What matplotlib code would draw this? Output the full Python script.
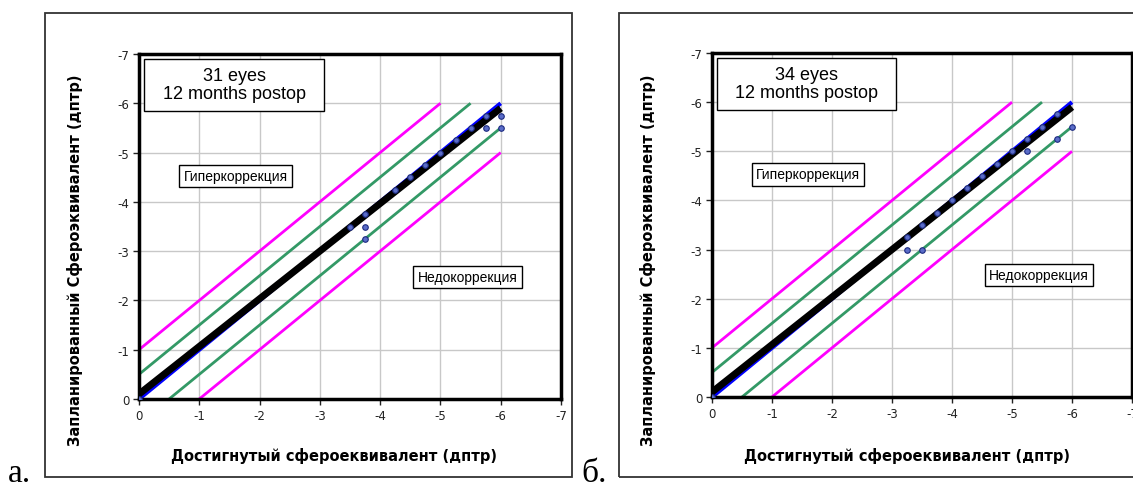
import numpy as np
import matplotlib
matplotlib.use("Agg")
import matplotlib.pyplot as plt
from matplotlib.patches import Rectangle

plt.rcParams['axes.unicode_minus'] = False

# --- data ---
ticks = [0, -1, -2, -3, -4, -5, -6, -7]

# reference lines (achieved x, planned y)
magenta_upper_x = [0, -5]
magenta_upper_y = [-1, -6]
magenta_lower_x = [-1, -6]
magenta_lower_y = [0, -5]
green_upper_x = [0, -5.5]
green_upper_y = [-0.5, -6]
green_lower_x = [-0.5, -6]
green_lower_y = [0, -5.5]
ideal_x = [0, -6]
ideal_y = [0, -6]

# regression lines
fit_a_x = [0, -6]
fit_a_y = [-0.1, -5.9]
fit_b_x = [0, -6]
fit_b_y = [-0.1, -5.9]

# eyes, panel a
achieved_a = [0, -3.5, -3.75, -3.75, -3.75, -4.25, -4.5, -4.75, -5, -5.25,
              -5.5, -5.75, -5.75, -6, -6]
planned_a = [0, -3.5, -3.75, -3.5, -3.25, -4.25, -4.5, -4.75, -5, -5.25,
             -5.5, -5.75, -5.5, -5.75, -5.5]

# eyes, panel b
achieved_b = [0, -3.25, -3.25, -3.5, -3.5, -3.75, -4, -4.25, -4.5, -4.75,
              -5, -5.25, -5.25, -5.5, -5.75, -5.75, -6]
planned_b = [0, -3.25, -3.0, -3.0, -3.5, -3.75, -4, -4.25, -4.5, -4.75,
             -5, -5.25, -5.0, -5.5, -5.75, -5.25, -5.5]

titles = ["31 eyes\n12 months postop", "34 eyes\n12 months postop"]
letters = ["а.", "б."]

W, H = 1133, 485
fig = plt.figure(figsize=(W / 100, H / 100), dpi=100)


def px(x0, y0, x1, y1):
    """pixel box (top-left origin) -> figure fraction rect"""
    return [x0 / W, 1 - y1 / H, (x1 - x0) / W, (y1 - y0) / H]


def draw_panel(ax, xs, ys, fit_x, fit_y, title):
    ax.set_xlim(0, -7)
    ax.set_ylim(0, -7)
    ax.set_xticks(ticks)
    ax.set_yticks(ticks)
    ax.set_xticklabels([str(t) for t in ticks])
    ax.set_yticklabels([str(t) for t in ticks])
    ax.tick_params(length=4, width=1, labelsize=8.5, pad=3, colors="#222222")
    ax.grid(True, color="#c8c8c8", lw=1)
    ax.set_axisbelow(True)
    for s in ax.spines.values():
        s.set_linewidth(2.5)
        s.set_color("black")

    ax.plot(magenta_upper_x, magenta_upper_y, color="#ff00ff", lw=2, solid_capstyle="butt")
    ax.plot(magenta_lower_x, magenta_lower_y, color="#ff00ff", lw=2, solid_capstyle="butt")
    ax.plot(green_upper_x, green_upper_y, color="#339966", lw=2, solid_capstyle="butt")
    ax.plot(green_lower_x, green_lower_y, color="#339966", lw=2, solid_capstyle="butt")
    ax.plot(ideal_x, ideal_y, color="#0000ff", lw=3, solid_capstyle="butt")
    ax.plot(fit_x, fit_y, color="black", lw=5, solid_capstyle="butt", zorder=4)
    # eyes drawn over the lines, as in the original
    ax.plot(xs, ys, "o", ms=4, mfc="#5a6cc8", mec="#1c2a80", mew=0.8, zorder=5)

    ax.add_patch(Rectangle((-0.08, -6.9), -2.99, 1.06, fc="white", ec="black",
                           lw=1, zorder=6))
    ax.text(-1.58, -6.38, title, ha="center", va="center", fontsize=13,
            family="Liberation Sans", linespacing=1.05, zorder=7)
    ax.text(-1.6, -4.53, "Гиперкоррекция", ha="center", va="center",
            fontsize=10, family="Liberation Sans", zorder=7,
            bbox=dict(boxstyle="square,pad=0.3", fc="white", ec="black", lw=1))
    ax.text(-5.45, -2.48, "Недокоррекция", ha="center", va="center",
            fontsize=10, family="Liberation Sans", zorder=7,
            bbox=dict(boxstyle="square,pad=0.3", fc="white", ec="black", lw=1))


# outer frames
fig.patches.append(Rectangle((44.7 / W, 1 - 478 / H), 527 / W, 464 / H,
                             transform=fig.transFigure, fill=False,
                             ec="#333333", lw=1.3))
fig.patches.append(Rectangle((619 / W, 1 - 478 / H), 540 / W, 464 / H,
                             transform=fig.transFigure, fill=False,
                             ec="#333333", lw=1.3))

ax1 = fig.add_axes(px(139, 55, 561, 400))
ax2 = fig.add_axes(px(712, 54, 1132, 398))
draw_panel(ax1, achieved_a, planned_a, fit_a_x, fit_a_y, titles[0])
draw_panel(ax2, achieved_b, planned_b, fit_b_x, fit_b_y, titles[1])

for dx, letter, lx in [(0, letters[0], 8), (573, letters[1], 581)]:
    fig.text(75 / W + dx / W, 1 - 260 / H, "Запланированный Сфероэквивалент (дптр)",
             rotation=90, ha="center", va="center", fontsize=10.5,
             fontweight="bold", family="DejaVu Sans")
    fig.text((334 + dx) / W, 1 - 456 / H, "Достигнутый сфероеквивалент (дптр)",
             ha="center", va="center", fontsize=10.5, fontweight="bold",
             family="DejaVu Sans")
    fig.text(lx / W, 3 / H, letter, ha="left", va="baseline", fontsize=24,
             family="Liberation Serif")

fig.savefig("out.png", dpi=100)
